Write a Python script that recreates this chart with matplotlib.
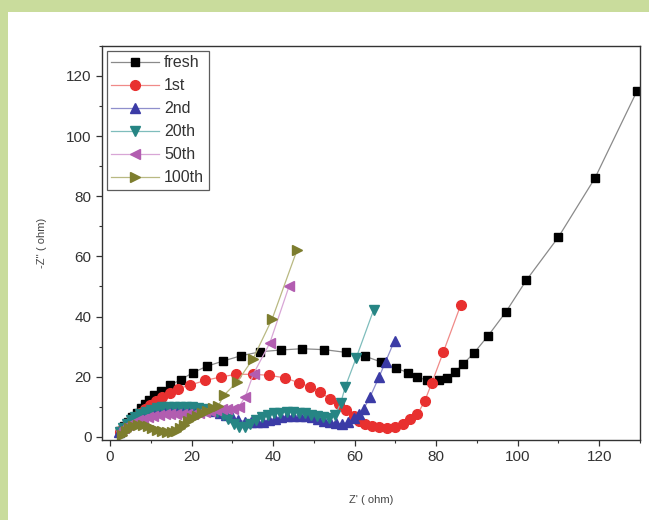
import matplotlib
matplotlib.use('Agg')
import matplotlib.pyplot as plt
from matplotlib.patches import Rectangle
from matplotlib.ticker import MultipleLocator

plt.rcParams['font.family'] = ['Liberation Sans', 'DejaVu Sans']

# EIS data: Z' (ohm) vs -Z'' (ohm)
fresh_x = [2.5, 3.5, 4.5, 5.5, 6.5, 7.5, 8.5, 9.6, 10.8, 12.6, 14.8, 17.3, 20.4, 23.8,
           27.7, 32.2, 36.9, 42.0, 47.0, 52.6, 57.8, 62.6, 66.5, 70.1, 73.0, 75.4,
           77.7, 80.6, 82.6, 84.7, 86.7, 89.3, 92.8, 97.1, 102.1, 110.0, 119.0, 129.3]
fresh_y = [2.0, 3.5, 5.0, 6.5, 8.0, 9.5, 11.0, 12.3, 13.8, 15.2, 17.2, 19.0, 21.4, 23.5,
           25.2, 27.0, 28.3, 28.9, 29.3, 29.0, 28.1, 26.8, 24.9, 22.9, 21.4, 19.9,
           18.8, 18.8, 19.5, 21.6, 24.3, 27.9, 33.7, 41.5, 52.0, 66.4, 86.1, 115.0]

c1_x = [2.5, 3.3, 4.2, 5.2, 6.2, 7.3, 8.5, 9.8, 11.2, 12.8, 14.6, 16.6, 19.6, 23.4,
        27.1, 30.9, 35.0, 38.9, 43.0, 46.3, 49.1, 51.6, 53.9, 56.1, 58.0, 59.8, 61.2,
        62.6, 64.2, 66.0, 68.0, 70.0, 71.9, 73.7, 75.4, 77.2, 78.9, 81.8, 86.0]
c1_y = [1.5, 2.8, 4.0, 5.3, 6.6, 7.9, 9.2, 10.5, 11.8, 13.2, 14.6, 16.0, 17.2, 18.8,
        19.9, 20.8, 20.8, 20.5, 19.6, 18.0, 16.6, 14.9, 12.7, 10.8, 8.9, 6.9, 5.4,
        4.3, 3.6, 3.2, 3.1, 3.3, 4.2, 5.8, 7.5, 11.9, 17.8, 28.3, 43.7]

c2_x = [2.2, 3.0, 3.8, 4.8, 5.8, 7.0, 8.2, 9.5, 10.8, 12.2, 13.6, 15.0, 16.5, 18.0,
        19.5, 21.0, 22.5, 24.0, 25.5, 27.0, 28.5, 30.0, 31.5, 33.0, 34.5, 36.0, 37.5,
        39.0, 40.5, 42.0, 43.5, 45.0, 46.5, 48.0, 49.5, 51.0, 52.5, 54.0, 55.5, 57.0,
        58.5, 59.8, 61.0, 62.2, 63.8, 66.0, 67.6, 69.8]
c2_y = [1.5, 2.8, 4.0, 5.2, 6.2, 7.2, 7.9, 8.5, 8.9, 9.2, 9.4, 9.5, 9.6, 9.6,
        9.5, 9.4, 9.2, 8.9, 8.5, 8.0, 7.3, 6.5, 5.7, 5.1, 4.8, 4.8, 5.1,
        5.6, 6.1, 6.5, 6.8, 7.0, 7.0, 6.8, 6.5, 6.0, 5.4, 4.9, 4.5, 4.4,
        4.8, 6.3, 7.6, 9.2, 13.3, 19.9, 25.0, 32.0]

c20_x = [2.4, 3.2, 4.1, 5.1, 6.2, 7.4, 8.7, 10.0, 11.4, 12.8, 14.2, 15.7, 17.2, 18.7,
         20.2, 21.7, 23.2, 24.7, 26.2, 27.6, 29.0, 30.3, 31.6, 33.0, 34.4, 35.8, 37.3,
         38.8, 40.3, 41.8, 43.3, 44.8, 46.3, 47.8, 49.3, 50.8, 52.3, 53.8, 55.3, 56.6,
         57.7, 60.4, 64.7]
c20_y = [1.6, 3.0, 4.3, 5.5, 6.6, 7.6, 8.4, 9.0, 9.5, 9.8, 10.0, 10.1, 10.1, 10.0,
         9.9, 9.7, 9.4, 9.0, 8.3, 7.2, 5.8, 4.4, 3.4, 3.3, 4.3, 5.6, 6.6,
         7.3, 7.8, 8.1, 8.3, 8.3, 8.1, 7.8, 7.4, 7.0, 6.6, 6.4, 7.3, 11.3,
         16.6, 26.3, 42.3]

c50_x = [2.6, 3.5, 4.5, 5.6, 6.8, 8.0, 9.3, 10.6, 12.0, 13.4, 14.8, 16.2, 17.6, 19.0,
         20.4, 21.8, 23.2, 24.6, 26.0, 27.4, 28.8, 30.2, 31.6, 33.2, 35.2, 39.2, 43.9]
c50_y = [1.8, 2.8, 3.8, 4.7, 5.5, 6.1, 6.6, 7.0, 7.3, 7.5, 7.6, 7.6, 7.6, 7.6,
         7.7, 7.9, 8.2, 8.6, 9.0, 9.3, 9.4, 9.3, 10.0, 13.4, 21.0, 31.2, 50.0]

c100_x = [3.0, 3.8, 4.7, 5.7, 6.8, 8.0, 9.2, 10.4, 11.6, 12.8, 14.0, 15.2, 16.3, 17.2,
          18.1, 19.1, 20.2, 21.4, 22.6, 23.9, 25.2, 26.6, 27.9, 31.2, 35.1, 39.8, 45.9]
c100_y = [0.8, 1.8, 2.8, 3.6, 4.0, 4.0, 3.6, 3.0, 2.4, 1.9, 1.6, 1.5, 1.8, 2.8,
          4.1, 5.2, 6.2, 7.1, 7.9, 8.7, 9.5, 10.4, 13.8, 18.3, 26.0, 39.3, 62.2]

series = [
    ("fresh", fresh_x, fresh_y, 's', '#000000', '#8a8a8a', 6.0),
    ("1st", c1_x, c1_y, 'o', '#e8302f', '#f08a88', 7.0),
    ("2nd", c2_x, c2_y, '^', '#3b3ba6', '#8f8fcc', 7.0),
    ("20th", c20_x, c20_y, 'v', '#268584', '#7fbdbc', 7.0),
    ("50th", c50_x, c50_y, '<', '#b25db0', '#d8a6d6', 7.0),
    ("100th", c100_x, c100_y, '>', '#7d7d2e', '#b9b982', 7.0),
]

fig = plt.figure(figsize=(6.49, 5.2), dpi=100)
fig.patch.set_facecolor('#c9dc9c')
fig.patches.append(Rectangle((8 / 649, 0), 1, 1 - 12 / 520, transform=fig.transFigure,
                             facecolor='white', edgecolor='none', zorder=-10))

ax = fig.add_axes([0.157, 0.154, 0.829, 0.758])
for name, xs, ys, mk, col, lcol, ms in series:
    ax.plot(xs, ys, color=lcol, lw=0.9, marker=mk, markersize=ms,
            markerfacecolor=col, markeredgecolor=col, label=name)

ax.set_xlim(-2, 130)
ax.set_ylim(-1, 130)
ax.xaxis.set_major_locator(MultipleLocator(20))
ax.xaxis.set_minor_locator(MultipleLocator(10))
ax.yaxis.set_major_locator(MultipleLocator(20))
ax.yaxis.set_minor_locator(MultipleLocator(10))
ax.tick_params(which='both', direction='out', top=False, right=False,
               labelsize=11, labelcolor='#333333', color='#333333')
ax.tick_params(which='major', length=4, width=0.9)
ax.tick_params(which='minor', length=2.5, width=0.8)
for sp in ax.spines.values():
    sp.set_linewidth(1.0)
    sp.set_color('#333333')

ax.set_xlabel("Z' ( ohm)", fontsize=8, color='#444444', labelpad=22)
ax.set_ylabel("-Z'' ( ohm)", fontsize=8, color='#444444', labelpad=14)

leg = ax.legend(loc='upper left', fontsize=11.5, frameon=True, fancybox=False,
                edgecolor='#333333', borderaxespad=0.3, labelspacing=0.5,
                handlelength=3.0, handletextpad=0.3, borderpad=0.3)
leg.get_frame().set_linewidth(0.9)
for t in leg.get_texts():
    t.set_color('#333333')

fig.savefig('out.png', dpi=100, facecolor=fig.get_facecolor())
